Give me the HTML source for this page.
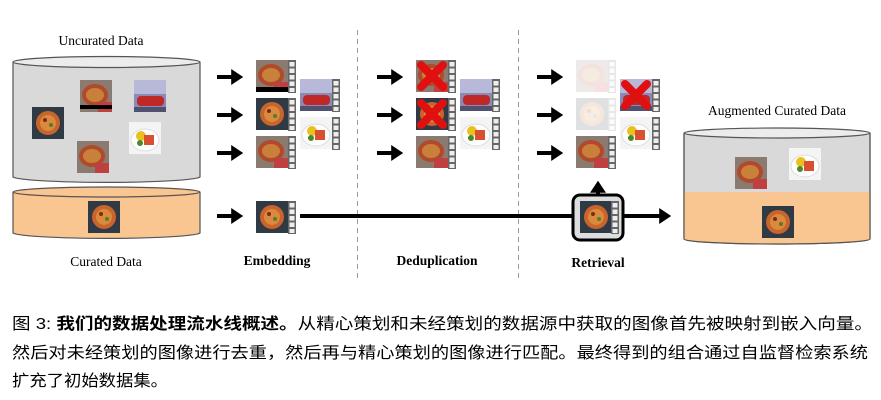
<!DOCTYPE html>
<html><head><meta charset="utf-8"><style>
html,body{margin:0;padding:0;background:#fff;width:881px;height:400px;overflow:hidden}
svg{display:block}
</style></head><body>
<svg width="881" height="400" viewBox="0 0 881 400" xmlns="http://www.w3.org/2000/svg">
<defs>
<marker id="ah" markerWidth="4" markerHeight="4" refX="2.2" refY="2" orient="auto" markerUnits="strokeWidth"><path d="M0,0 L3,2 L0,4 z" fill="#000"/></marker>
<g id="strip"><rect x="0" y="0" width="8" height="33" fill="#666"/><rect x="1.5" y="2" width="5" height="4.5" fill="#eee"/><rect x="1.5" y="8.5" width="5" height="4.5" fill="#eee"/><rect x="1.5" y="15" width="5" height="4.5" fill="#eee"/><rect x="1.5" y="21.5" width="5" height="4.5" fill="#eee"/><rect x="1.5" y="28" width="5" height="4" fill="#eee"/></g>
<g id="pizza"><rect width="32" height="32" fill="#2f3a45"/><circle cx="16" cy="16" r="12" fill="#c8642c"/><circle cx="16" cy="16" r="8" fill="#d98a3c"/><circle cx="13" cy="13" r="2" fill="#7a2a1a"/><circle cx="19" cy="18" r="2" fill="#5a7a2a"/></g>
<g id="pasta"><rect width="32" height="32" fill="#8a7a70"/><ellipse cx="15" cy="15" rx="13" ry="11" fill="#b04a2a"/><ellipse cx="15" cy="15" rx="9" ry="7" fill="#c8803a"/><rect x="18" y="22" width="14" height="10" fill="#c04040"/></g>
<g id="car"><rect width="32" height="32" fill="#8a8ab8"/><rect width="32" height="14" fill="#b8b8d8"/><rect x="3" y="16" width="27" height="10" rx="4" fill="#c02828"/><rect x="0" y="27" width="32" height="5" fill="#505070"/></g>
<g id="salad"><rect width="32" height="32" fill="#f4f4f4"/><ellipse cx="16" cy="18" rx="14" ry="11" fill="#fff" stroke="#ddd"/><circle cx="12" cy="14" r="5" fill="#e8c020"/><rect x="15" y="13" width="10" height="10" fill="#d85030"/><circle cx="11" cy="21" r="3" fill="#4a8a2a"/></g>
<g id="cross"><path d="M5,5 L27,27 M27,5 L5,27" stroke="#e01010" stroke-width="8" stroke-linecap="round"/></g>
</defs>

<!-- Uncurated cylinder -->
<path d="M13,62 L13,177 A94,6 0 0 0 200,177 L200,62" fill="#d9d9d9" stroke="#555" stroke-width="1.2"/>
<ellipse cx="106.5" cy="62" rx="93.5" ry="5.5" fill="#ececec" stroke="#555" stroke-width="1.2"/>
<text x="101" y="45" font-family="Liberation Serif, serif" font-size="13.5" text-anchor="middle">Uncurated Data</text>
<use href="#pizza" x="32" y="107"/>
<g transform="translate(80,80)"><use href="#pasta"/><rect x="0" y="25" width="32" height="4" fill="#000"/></g>
<use href="#car" x="134" y="80" transform=""/>
<use href="#pasta" x="77" y="141"/>
<use href="#salad" x="129" y="122"/>

<!-- Curated cylinder -->
<path d="M13,192 L13,233 A94,6 0 0 0 200,233 L200,192" fill="#f9c591" stroke="#555" stroke-width="1.2"/>
<ellipse cx="106.5" cy="192" rx="93.5" ry="5" fill="#f9c591" stroke="#555" stroke-width="1.2"/>
<use href="#pizza" x="88" y="201"/>
<text x="106" y="266" font-family="Liberation Serif, serif" font-size="13.5" text-anchor="middle">Curated Data</text>

<!-- dashed separators -->
<line x1="357.5" y1="30" x2="357.5" y2="278" stroke="#999" stroke-width="1" stroke-dasharray="5,4"/>
<line x1="518.5" y1="30" x2="518.5" y2="278" stroke="#999" stroke-width="1" stroke-dasharray="5,4"/>

<!-- Arrows -->
<g stroke="#000" stroke-width="4" fill="none" marker-end="url(#ah)">
<line x1="217" y1="77" x2="240" y2="77"/><line x1="217" y1="115" x2="240" y2="115"/><line x1="217" y1="153" x2="240" y2="153"/><line x1="217" y1="216" x2="240" y2="216"/>
<line x1="377" y1="77" x2="400" y2="77"/><line x1="377" y1="115" x2="400" y2="115"/><line x1="377" y1="153" x2="400" y2="153"/>
<line x1="537" y1="77" x2="560" y2="77"/><line x1="537" y1="115" x2="560" y2="115"/><line x1="537" y1="153" x2="560" y2="153"/>
<line x1="300" y1="216" x2="668" y2="216"/>
<line x1="598" y1="194" x2="598" y2="184"/>
</g>

<!-- Embedding column -->
<g><use href="#pasta" x="256" y="60"/><rect x="256" y="87" width="32" height="5" fill="#000"/><use href="#strip" x="288" y="60"/></g>
<g><use href="#pizza" x="256" y="98"/><use href="#strip" x="288" y="98"/></g>
<g><use href="#pasta" x="256" y="136"/><use href="#strip" x="288" y="136"/></g>
<g><use href="#pizza" x="256" y="201"/><use href="#strip" x="288" y="201"/></g>
<g><use href="#car" x="300" y="79"/><use href="#strip" x="332" y="79"/></g>
<g><use href="#salad" x="300" y="117"/><use href="#strip" x="332" y="117"/></g>

<!-- Dedup column -->
<g><use href="#pasta" x="416" y="60"/><use href="#cross" x="416" y="60"/><use href="#strip" x="448" y="60"/></g>
<g><use href="#pizza" x="416" y="98"/><use href="#cross" x="416" y="98"/><use href="#strip" x="448" y="98"/></g>
<g><use href="#pasta" x="416" y="136"/><use href="#strip" x="448" y="136"/></g>
<g><use href="#car" x="460" y="79"/><use href="#strip" x="492" y="79"/></g>
<g><use href="#salad" x="460" y="117"/><use href="#strip" x="492" y="117"/></g>

<!-- Retrieval column -->
<g opacity="0.15"><use href="#pasta" x="576" y="60"/><use href="#strip" x="608" y="60"/></g>
<g opacity="0.15"><use href="#pizza" x="576" y="98"/><use href="#strip" x="608" y="98"/></g>
<g><use href="#pasta" x="576" y="136"/><use href="#strip" x="608" y="136"/></g>
<g><use href="#car" x="620" y="79"/><use href="#cross" x="620" y="79"/><use href="#strip" x="652" y="79"/></g>
<g><use href="#salad" x="620" y="117"/><use href="#strip" x="652" y="117"/></g>
<rect x="573" y="195" width="50" height="45" rx="7" fill="#ddd" stroke="#000" stroke-width="3"/>
<g><use href="#pizza" x="580" y="201"/><use href="#strip" x="611" y="201"/></g>

<!-- Augmented cylinder -->
<path d="M684,133 L684,239 A93,5 0 0 0 870,239 L870,133" fill="#d9d9d9" stroke="#555" stroke-width="1.2"/>
<path d="M684,192 L684,239 A93,5 0 0 0 870,239 L870,192 Z" fill="#f9c591"/>
<path d="M684,133 L684,239 A93,5 0 0 0 870,239 L870,133" fill="none" stroke="#555" stroke-width="1.2"/>
<ellipse cx="777" cy="133" rx="93" ry="5" fill="#ececec" stroke="#555" stroke-width="1.2"/>
<text x="777" y="115" font-family="Liberation Serif, serif" font-size="13.5" text-anchor="middle">Augmented Curated Data</text>
<use href="#pasta" x="735" y="157"/>
<use href="#salad" x="789" y="148"/>
<use href="#pizza" x="762" y="206"/>

<!-- Stage labels -->
<g font-family="Liberation Serif, serif" font-size="13.5" font-weight="bold" text-anchor="middle">
<text x="277" y="265">Embedding</text>
<text x="437" y="265">Deduplication</text>
<text x="598" y="267">Retrieval</text>
</g>

<!-- Caption -->
<g font-family="Liberation Sans, 'Noto Sans CJK SC', sans-serif" font-size="16">
<text x="12" y="329" textLength="861" lengthAdjust="spacingAndGlyphs">图 3: <tspan font-weight="bold">我们的数据处理流水线概述。</tspan>从精心策划和未经策划的数据源中获取的图像首先被映射到嵌入向量。</text>
<text x="12" y="358" textLength="856" lengthAdjust="spacingAndGlyphs">然后对未经策划的图像进行去重，然后再与精心策划的图像进行匹配。最终得到的组合通过自监督检索系统</text>
<text x="12" y="386" textLength="156" lengthAdjust="spacingAndGlyphs">扩充了初始数据集。</text>
</g>
</svg>
</body></html>
